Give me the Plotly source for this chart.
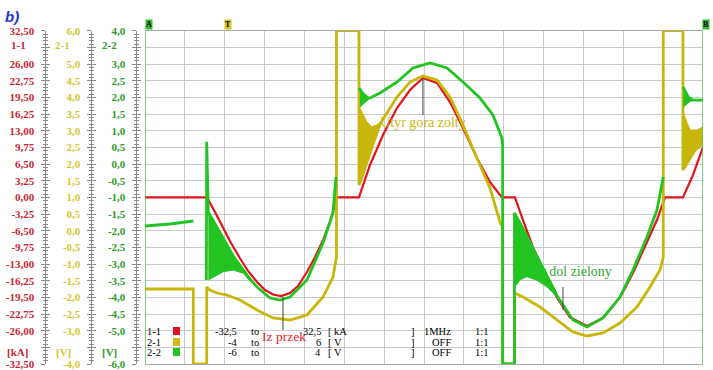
import plotly.graph_objects as go

W, H = 713, 370

# ---------------- data (x = screen divisions 0..14) ----------------
# channel 1-1 : current [kA]
red_x = [0, 1.555, 1.756, 1.957, 2.157, 2.383, 2.584, 2.810, 3.011, 3.211,
         3.412, 3.638, 3.838, 4.064, 4.265, 4.466, 4.641, 4.817, 5.369, 5.645,
         5.971, 6.322, 6.648, 6.974, 7.326, 7.652, 7.978, 8.329, 8.655, 8.956,
         9.282, 9.483, 9.734, 9.985, 10.336, 10.662, 11.089, 11.490, 11.917, 12.243,
         12.594, 12.845, 13.046, 13.497, 13.749, 14.0]
red_kA = [0, 0, -2.86, -5.98, -8.90, -11.87, -14.36, -16.51, -18.07, -18.95,
          -19.24, -18.65, -17.29, -14.56, -11.67, -8.35, -4.81, 0, 0, 6.31,
          12.16, 17.42, 20.93, 23.28, 22.30, 18.59, 13.52, 7.67, 2.99, 0,
          0, -4.42, -9.72, -14.20, -19.50, -23.40, -25.09, -23.53, -19.50, -14.75,
          -8.90, -4.42, 0, 0, 4.36, 9.82]

# channel 2-1 : upper thyristor voltage [V]
yel_x = [0, 1.212, 1.212, 1.548, 1.548, 1.631, 1.806, 2.057, 2.383, 2.810,
         3.211, 3.638, 4.064, 4.466, 4.717, 4.804, 4.804, 5.369, 5.369, 5.896,
         6.322, 6.648, 6.974, 7.326, 7.652, 7.978, 8.329, 8.655, 8.906, 8.974,
         8.974, 9.270, 9.270, 9.483, 9.910, 10.336, 10.738, 11.089, 11.490, 11.917,
         12.343, 12.669, 12.920, 13.003, 13.003, 13.497, 13.497, 14.0]
yel_V = [-1.75, -1.75, -4.0, -4.0, -1.69, -1.78, -1.87, -1.93, -2.08, -2.38,
         -2.62, -2.68, -2.53, -1.99, -1.39, -0.79, 6.0, 6.0, 1.37, 3.20,
         4.01, 4.46, 4.64, 4.52, 4.01, 3.17, 2.18, 1.28, 0.26, 0.08,
         -4.0, -4.0, -1.87, -1.99, -2.29, -2.68, -3.04, -3.16, -3.07, -2.77,
         -2.29, -1.69, -1.18, -0.79, 6.0, 6.0, 1.82, 2.81]

# channel 2-2 : lower thyristor voltage [V]
grn_x = [0, 0.627, 1.212, None, 1.540, 1.548, 1.588, 1.882, 2.215, 2.634,
         2.810, 3.136, 3.387, 3.638, 4.064, 4.466, 4.717, 4.792, None, 5.369,
         5.519, 5.645, 5.896, 6.322, 6.724, 7.150, 7.577, 7.978, 8.404, 8.730,
         8.956, 8.974, 8.974, 9.270, 9.270, 9.483, 9.734, 9.985, 10.336, 10.738,
         11.089, 11.490, 11.917, 12.243, 12.594, 12.845, 13.003, None, 13.497, 13.673,
         14.0]
grn_V = [-1.86, -1.80, -1.71, None, -3.48, 0.67, -1.44, -2.04, -2.76, -3.45,
         -3.69, -4.02, -4.08, -3.99, -3.48, -2.37, -1.47, -0.39, None, 2.28,
         1.95, 1.98, 2.13, 2.46, 2.88, 3.03, 2.88, 2.46, 1.98, 1.47,
         0.78, 0.57, -6.0, -6.0, -1.47, -1.95, -2.55, -3.15, -3.95, -4.68,
         -4.89, -4.62, -3.99, -3.18, -2.19, -1.38, -0.39, None, 2.31, 1.92,
         1.92]

# ringing envelopes after switching (read as outlines)
yel_ring1_x = [5.394, 5.562, 5.687, 5.813, 5.896, 5.896, 5.728, 5.562, 5.394]
yel_ring1_V = [3.68, 3.27, 3.12, 3.17, 3.26, 3.11, 2.57, 1.97, 1.37]
yel_ring2_x = [13.505, 13.673, 13.841, 14.0, 14.0, 13.841, 13.673, 13.505]
yel_ring2_V = [3.53, 3.02, 3.02, 3.11, 2.57, 2.42, 2.21, 1.82]
grn_ring1_x = [1.588, 1.882, 2.215, 2.634, 2.634, 2.466, 2.215, 1.964, 1.714, 1.588]
grn_ring1_V = [-1.44, -2.04, -2.76, -3.42, -3.51, -3.28, -3.18, -3.23, -3.38, -3.48]
grn_ring2_x = [5.394, 5.519, 5.645, 5.519, 5.394]
grn_ring2_V = [2.28, 2.10, 1.98, 1.83, 1.71]
grn_ring3_x = [9.282, 9.483, 9.734, 9.985, 10.336, 10.336, 10.078, 9.827, 9.576, 9.408, 9.282]
grn_ring3_V = [-1.47, -1.88, -2.48, -3.08, -3.88, -3.98, -3.68, -3.48, -3.38, -3.48, -3.68]
grn_ring4_x = [13.505, 13.600, 13.750, 13.600, 13.505]
grn_ring4_V = [2.31, 2.05, 1.95, 1.80, 1.71]

# axis ticks
red_tickvals = [32.5, 29.25, 26.0, 22.75, 19.5, 16.25, 13.0, 9.75, 6.5, 3.25, 0.0,
                -3.25, -6.5, -9.75, -13.0, -16.25, -19.5, -22.75, -26.0, -29.25, -32.5]
red_ticktext = ["32,50", "", "26,00", "22,75", "19,50", "16,25", "13,00", "9,75", "6,50", "3,25", "0,00",
                "-3,25", "-6,50", "-9,75", "-13,00", "-16,25", "-19,50", "-22,75", "-26,00", "", "-32,50"]
yel_tickvals = [6.0, 5.5, 5.0, 4.5, 4.0, 3.5, 3.0, 2.5, 2.0, 1.5, 1.0,
                0.5, 0.0, -0.5, -1.0, -1.5, -2.0, -2.5, -3.0, -3.5, -4.0]
yel_ticktext = ["6,0", "", "5,0", "4,5", "4,0", "3,5", "3,0", "2,5", "2,0", "1,5", "1,0",
                "0,5", "0,0", "-0,5", "-1,0", "-1,5", "-2,0", "-2,5", "-3,0", "", "-4,0"]
grn_tickvals = [4.0, 3.5, 3.0, 2.5, 2.0, 1.5, 1.0, 0.5, 0.0, -0.5, -1.0,
                -1.5, -2.0, -2.5, -3.0, -3.5, -4.0, -4.5, -5.0, -5.5, -6.0]
grn_ticktext = ["4,0", "", "3,0", "2,5", "2,0", "1,5", "1,0", "0,5", "0,0", "-0,5", "-1,0",
                "-1,5", "-2,0", "-2,5", "-3,0", "-3,5", "-4,0", "-4,5", "-5,0", "", "-6,0"]

# channel table
leg_names = ["1-1", "2-1", "2-2"]
leg_min = ["-32,5", "-4", "-6"]
leg_max = ["32,5", "6", "4"]
leg_unit = ["kA", "V", "V"]
leg_filter = ["1MHz", "OFF", "OFF"]
leg_ratio = ["1:1", "1:1", "1:1"]

# notes on the chart
note_text = ["Utyr gora zolty", "Iz przek", "Utyr dol zielony"]
note_x = [6.974, 3.487, 10.562]
note_y = [3.23, -27.43, -3.27]
note_axis = ["y2", "y", "y3"]
note_ptr_x = [6.974, 3.462, 10.487]
note_ptr_y0 = [23.28, -19.43, -17.48]   # kA scale
note_ptr_y1 = [16.06, -25.87, -21.97]

# ---------------- styling ----------------
C_RED = "#e3141c"
C_YEL = "#c9b60a"
C_GRN = "#22c422"
T_RED = "#cc1f33"
T_YEL = "#d2c82e"
T_GRN = "#2c9c2c"
GRID = "#cacaca"
RULER = "#8a8a8a"
SERIF = "Liberation Serif"

XD = [145 / W, 703 / W]
YD = [1 - 364 / H, 1 - 30.7 / H]


def PX(px):
    return px / W


def PY(py):
    return 1 - py / H


fig = go.Figure()

note_cols = [C_YEL, "#e8202a", "#35a535"]
note_sizes = [14, 13.5, 14]
for t, x, y, a, c, s in zip(note_text, note_x, note_y, note_axis, note_cols, note_sizes):
    fig.add_trace(go.Scatter(x=[x], y=[y], yaxis=a, mode="text", text=[t],
                             textposition="middle center",
                             textfont=dict(family=SERIF, size=s, color=c),
                             hoverinfo="skip", showlegend=False))

# green
fig.add_trace(go.Scatter(x=grn_x, y=grn_V, yaxis="y3", mode="lines",
                         line=dict(color=C_GRN, width=2.8), connectgaps=False,
                         hoverinfo="skip", showlegend=False))
for rx, ry in [(grn_ring1_x, grn_ring1_V), (grn_ring2_x, grn_ring2_V),
               (grn_ring3_x, grn_ring3_V), (grn_ring4_x, grn_ring4_V)]:
    fig.add_trace(go.Scatter(x=rx, y=ry, yaxis="y3", mode="lines", fill="toself",
                             fillcolor=C_GRN, line=dict(color=C_GRN, width=1),
                             hoverinfo="skip", showlegend=False))
# yellow
fig.add_trace(go.Scatter(x=yel_x, y=yel_V, yaxis="y2", mode="lines",
                         line=dict(color=C_YEL, width=2.8),
                         hoverinfo="skip", showlegend=False))
for rx, ry in [(yel_ring1_x, yel_ring1_V), (yel_ring2_x, yel_ring2_V)]:
    fig.add_trace(go.Scatter(x=rx, y=ry, yaxis="y2", mode="lines", fill="toself",
                             fillcolor=C_YEL, line=dict(color=C_YEL, width=1),
                             hoverinfo="skip", showlegend=False))
# red
fig.add_trace(go.Scatter(x=red_x, y=red_kA, yaxis="y", mode="lines",
                         line=dict(color=C_RED, width=2.2),
                         hoverinfo="skip", showlegend=False))

# empty traces to materialise the label / ruler axes
for a in ["y4", "y5", "y6", "y7"]:
    fig.add_trace(go.Scatter(x=[None], y=[None], yaxis=a, mode="lines",
                             hoverinfo="skip", showlegend=False))


def lax(pos, rng, tv, tt, col, mdt, labels=True, ticks="outside"):
    d = dict(domain=YD, range=rng, anchor="free", position=pos, side="left",
             overlaying="y", automargin=False,
             showline=True, linecolor=RULER, linewidth=1,
             tickmode="array", tickvals=tv,
             showticklabels=labels,
             ticks=ticks, ticklen=4, tickwidth=1, tickcolor=RULER,
             minor=dict(ticks=ticks, ticklen=2, tickwidth=1, tickcolor=RULER,
                        tickmode="linear", tick0=rng[0], dtick=mdt, showgrid=False),
             tickfont=dict(family=SERIF, size=11, color=col, weight="bold"),
             ticklabelstandoff=4,
             showgrid=False, zeroline=False, fixedrange=True)
    if labels:
        d["ticktext"] = tt
    return d


pos_r, pos_y, pos_g = PX(44.5), PX(90.5), PX(135.5)

fig.update_layout(
    width=W, height=H, margin=dict(l=0, r=0, t=0, b=0, pad=0, autoexpand=False),
    paper_bgcolor="white", plot_bgcolor="white", showlegend=False,
    separators=",.",
    xaxis=dict(domain=XD, range=[0, 14], tickmode="linear", tick0=0, dtick=1,
               showticklabels=False, ticks="", showgrid=True, gridcolor=GRID,
               zeroline=False, showline=True, mirror=True, linecolor="#a8a8a8",
               fixedrange=True, automargin=False),
    # main red scale: carries the horizontal grid
    yaxis=dict(domain=YD, range=[-32.5, 32.5], anchor="x", tickmode="array",
               tickvals=red_tickvals, showticklabels=False, ticks="",
               showgrid=True, gridcolor=GRID, zeroline=False, showline=False,
               fixedrange=True, automargin=False),
    yaxis2=lax(pos_y, [-4.0, 6.0], yel_tickvals, yel_ticktext, T_YEL, 0.1),
    yaxis3=lax(pos_g, [-6.0, 4.0], grn_tickvals, grn_ticktext, T_GRN, 0.1),
    yaxis4=lax(pos_r, [-32.5, 32.5], red_tickvals, red_ticktext, T_RED, 0.65),
    yaxis5=lax(pos_r, [-32.5, 32.5], red_tickvals, red_ticktext, T_RED, 0.65, labels=False, ticks="inside"),
    yaxis6=lax(pos_y, [-4.0, 6.0], yel_tickvals, yel_ticktext, T_YEL, 0.1, labels=False, ticks="inside"),
    yaxis7=lax(pos_g, [-6.0, 4.0], grn_tickvals, grn_ticktext, T_GRN, 0.1, labels=False, ticks="inside"),
)

shapes = []
# cursor lines A and B
for cx in [0, 14]:
    shapes.append(dict(type="line", xref="x", yref="y domain", x0=cx, x1=cx, y0=0, y1=1,
                       line=dict(color="#3cc83c", width=1.3)))
# note pointers
for x, y0, y1 in zip(note_ptr_x, note_ptr_y0, note_ptr_y1):
    shapes.append(dict(type="line", xref="x", yref="y", x0=x, x1=x, y0=y0, y1=y1,
                       line=dict(color="#404040", width=1)))
# channel colour squares
row_py = [331, 342, 352]
sq_cols = ["#e0141c", "#d4b814", "#22c422"]
for py, c in zip(row_py, sq_cols):
    shapes.append(dict(type="rect", xref="paper", yref="paper",
                       x0=PX(173), x1=PX(180), y0=PY(py + 4), y1=PY(py - 4),
                       fillcolor=c, line=dict(width=0)))

ann = []
# b)
ann.append(dict(xref="paper", yref="paper", x=PX(3), y=PY(16), xanchor="left", yanchor="middle",
                text="<b><i>b)</i></b>", showarrow=False,
                font=dict(family="Liberation Sans", size=15, color="#2233cc")))
# axis channel names and units
for txt, px, py, col in [("1-1", 18, 45, T_RED), ("2-1", 62, 45, T_YEL), ("2-2", 109, 45, T_GRN),
                         ("[kA]", 17, 352, T_RED), ("[V]", 63, 352, T_YEL), ("[V]", 109, 352, T_GRN)]:
    ann.append(dict(xref="paper", yref="paper", x=PX(px), y=PY(py), xanchor="center", yanchor="middle",
                    text="<b>%s</b>" % txt, showarrow=False,
                    font=dict(family=SERIF, size=11, color=col)))
# cursor markers
for txt, px, bg in [("A", 148.5, "#2fbf2f"), ("T", 228, "#d6c81a"), ("B", 706, "#2fbf2f")]:
    ann.append(dict(xref="paper", yref="paper", x=PX(px), y=PY(24.5), xanchor="center", yanchor="middle",
                    text="<b>%s</b>" % txt, showarrow=False, bgcolor=bg, borderpad=0,
                    font=dict(family=SERIF, size=8, color="black")))
# channel table
tf = dict(family=SERIF, size=10.5, color="black")
for i, py in enumerate(row_py):
    y = PY(py)
    cells = [(leg_names[i], 145, "left"), (leg_min[i], 239, "right"), ("to", 249, "left"),
             (leg_max[i], 323, "right"), ("[ " + leg_unit[i], 326, "left"), ("]", 409, "left"),
             (leg_filter[i], 453, "right"), (leg_ratio[i], 473, "left")]
    for txt, px, xa in cells:
        ann.append(dict(xref="paper", yref="paper", x=PX(px), y=y, xanchor=xa, yanchor="middle",
                        text=txt, showarrow=False, font=tf))

fig.update_layout(shapes=shapes, annotations=ann)
fig.write_html("out.html", config={"displayModeBar": False, "staticPlot": True},
               post_script="document.body.style.margin='0px';document.body.style.overflow='hidden';")
